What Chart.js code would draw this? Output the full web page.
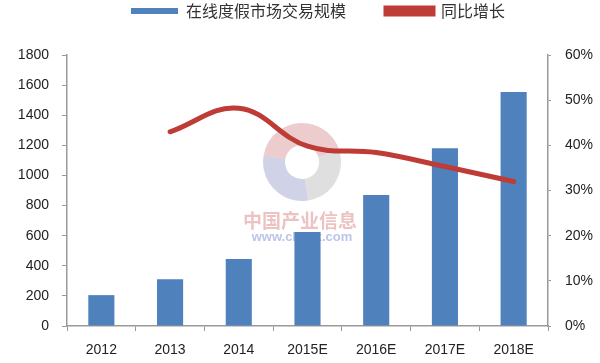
<!DOCTYPE html>
<html>
<head>
<meta charset="utf-8">
<script src="https://cdn.jsdelivr.net/npm/chart.js@4.4.0/dist/chart.umd.min.js"></script>
<style>
  html, body { margin: 0; padding: 0; background: #fff; }
  #wrap { width: 600px; height: 363px; position: relative; }
</style>
</head>
<body>
<div id="wrap"><canvas id="graph" width="600" height="363"></canvas></div>
<script>
// données
const annees = ["2012", "2013", "2014", "2015E", "2016E", "2017E", "2018E"];
const volume = [205, 310, 445, 625, 870, 1180, 1555];
const croissance = [null, 43, 48.2, 39.8, 38.4, 35.3, 32];
const ticksGauche = [0, 200, 400, 600, 800, 1000, 1200, 1400, 1600, 1800];
const ticksDroite = [0, 10, 20, 30, 40, 50, 60];

const policeChiffres = "'Liberation Sans', 'DejaVu Sans', sans-serif";
const policeCJK = "'Noto Sans CJK SC', sans-serif";

// filigrane (logo + texte)
const filigrane = {
	id: "filigrane",
	beforeDatasetsDraw(chart) {
		const ctx = chart.ctx;
		ctx.save();
		ctx.lineWidth = 22;
		ctx.strokeStyle = "rgba(200,110,110,0.35)";
		ctx.beginPath();
		ctx.arc(302, 162, 28, Math.PI * 1.05, Math.PI * 1.9);
		ctx.stroke();
		ctx.strokeStyle = "rgba(120,130,190,0.35)";
		ctx.beginPath();
		ctx.arc(302, 162, 28, Math.PI * 0.45, Math.PI * 1.05);
		ctx.stroke();
		ctx.strokeStyle = "rgba(150,150,150,0.3)";
		ctx.beginPath();
		ctx.arc(302, 162, 28, Math.PI * 1.9, Math.PI * 2.45);
		ctx.stroke();
		ctx.font = "bold 19px " + policeCJK;
		ctx.fillStyle = "rgba(215,120,120,0.45)";
		ctx.textAlign = "center";
		ctx.fillText("中国产业信息", 300, 221);
		ctx.font = "bold 13px " + policeChiffres;
		ctx.fillStyle = "rgba(120,140,210,0.5)";
		ctx.fillText("www.chyxx.com", 302, 237);
		ctx.restore();
	},
};

// légende : hauteur fixe et décalage horizontal
const legendeFixe = {
	id: "legendeFixe",
	beforeLayout(chart) {
		const leg = chart.legend;
		if (leg && !leg._patch) {
			const fitOrig = leg.fit;
			leg.fit = function () {
				fitOrig.call(this);
				this.height = 92;
			};
			leg._patch = true;
		}
	},
	afterLayout(chart) {
		chart.legend.left += 18;
		chart.legend.right += 18;
	},
};

const canva = document.querySelector("#graph");
new Chart(canva, {
	data: {
		labels: annees,
		datasets: [
			{
				type: "line",
				label: "同比增长",
				data: croissance,
				yAxisID: "y2",
				borderColor: "#BE3B36",
				backgroundColor: "#BE3B36",
				borderWidth: 5,
				pointRadius: 0,
				tension: 0.4,
				borderCapStyle: "round",
				order: 0,
			},
			{
				type: "bar",
				label: "在线度假市场交易规模",
				data: volume,
				yAxisID: "y",
				backgroundColor: "#4F81BD",
				barPercentage: 0.38,
				categoryPercentage: 1,
				order: 1,
			},
		],
	},
	options: {
		responsive: false,
		animation: false,
		devicePixelRatio: 1,
		layout: { padding: { top: -37, left: 0, right: 0, bottom: 0 } },
		plugins: {
			tooltip: { enabled: false },
			legend: {
				display: true,
				position: "top",
				reverse: true,
				labels: {
					boxWidth: 47,
					boxHeight: 6,
					padding: 40,
					color: "#333",
					font: { family: policeCJK, size: 16 },
				},
			},
		},
		scales: {
			x: {
				offset: true,
				grid: {
					display: true,
					offset: true,
					drawOnChartArea: false,
					drawTicks: true,
					tickLength: 5,
					color: "#999",
				},
				border: { color: "#999", width: 1.5 },
				ticks: {
					color: "#222",
					padding: 11,
					font: { family: policeChiffres, size: 14 },
				},
				afterFit: (s) => { s.height = 37; },
			},
			y: {
				position: "left",
				min: 0,
				max: 1800,
				afterBuildTicks: (s) => { s.ticks = ticksGauche.map((v) => ({ value: v })); },
				grid: { drawOnChartArea: false, drawTicks: true, tickLength: 5, color: "#999" },
				border: { color: "#999", width: 1.5 },
				ticks: {
					color: "#222",
					padding: 13,
					font: { family: policeChiffres, size: 14 },
					callback: (v) => String(v),
				},
				afterFit: (s) => { s.width = 67; },
			},
			y2: {
				position: "right",
				min: 0,
				max: 60,
				afterBuildTicks: (s) => { s.ticks = ticksDroite.map((v) => ({ value: v })); },
				grid: { drawOnChartArea: false, drawTicks: true, tickLength: 3, color: "#999" },
				border: { color: "#999", width: 1.5 },
				ticks: {
					color: "#222",
					padding: 14,
					font: { family: policeChiffres, size: 14 },
					callback: (v) => v + "%",
				},
				afterFit: (s) => { s.width = 52; },
			},
		},
	},
	plugins: [filigrane, legendeFixe],
});
</script>
</body>
</html>
